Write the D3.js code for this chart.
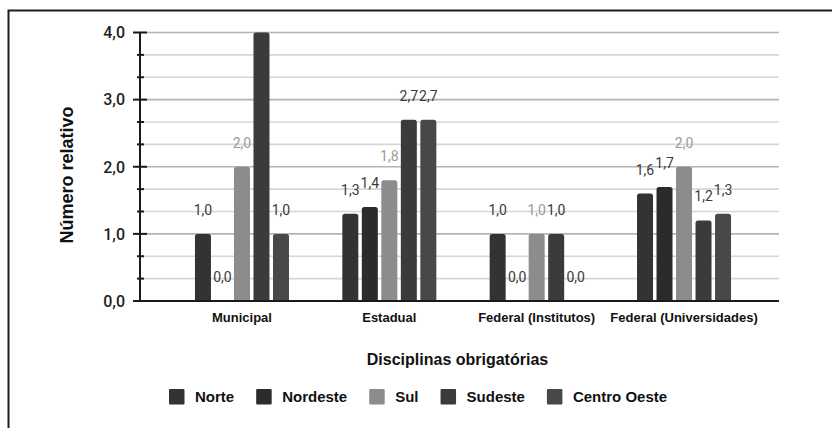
<!DOCTYPE html>
<html>
<head>
<meta charset="utf-8">
<script src="https://cdn.jsdelivr.net/npm/d3@7"></script>
<style>
  html, body { margin: 0; padding: 0; background: #ffffff; }
  svg { display: block; }
</style>
</head>
<body>
<svg id="chart" width="832" height="428"></svg>
<script>
// Categories (x axis groups) and regions (series)
const categories = ["Municipal", "Estadual", "Federal (Institutos)", "Federal (Universidades)"];
const seriesNames = ["Norte", "Nordeste", "Sul", "Sudeste", "Centro Oeste"];

// Relative number per category, one array per region
const norte       = [1.0, 1.3, 1.0, 1.6];
const nordeste    = [0.0, 1.4, 0.0, 1.7];
const sul         = [2.0, 1.8, 1.0, 2.0];
const sudeste     = [4.0, 2.7, 1.0, 1.2];
const centroOeste = [1.0, 2.7, 0.0, 1.3];

const seriesColors = ["#333333", "#2b2b2b", "#8c8c8c", "#3b3b3b", "#484848"];

// Axis ticks
const yTickValues = [0, 1, 2, 3, 4];
const minorPerUnit = 3;

const yTitle = "Número relativo";
const xTitle = "Disciplinas obrigatórias";

const seriesValues = [norte, nordeste, sul, sudeste, centroOeste];

const ptBR = d3.formatLocale({ decimal: ",", thousands: ".", grouping: [3], currency: ["R$", ""] });
const fmt = ptBR.format(".1f");

const svg = d3.select("#chart");

// Plot geometry
const plot = { left: 140, right: 779, top: 32.5, bottom: 301 };

const y = d3.scaleLinear().domain([0, 4]).range([plot.bottom, plot.top]);
const x0 = d3.scaleBand().domain(categories).range([168.3, 757.7]).padding(0);
const x1 = d3.scaleBand().domain(seriesNames).range([0, x0.bandwidth()])
  .paddingInner(0.18).paddingOuter(1.367);

// Outer frame (left and top edges)
svg.append("path")
  .attr("d", "M8.5,428V10.5H832")
  .attr("fill", "none")
  .attr("stroke", "#1e1e1e")
  .attr("stroke-width", 2);

// Gridlines: majors on whole units, minors on thirds
const gridValues = d3.range(0, 4 * minorPerUnit + 1).map(i => i / minorPerUnit);
svg.append("g").selectAll("line")
  .data(gridValues.filter(v => v > 0))
  .join("line")
  .attr("x1", plot.left).attr("x2", plot.right)
  .attr("y1", d => y(d)).attr("y2", d => y(d))
  .attr("stroke", d => Math.abs(d - Math.round(d)) < 1e-6 ? "#b4b4b4" : "#d6d6d6")
  .attr("stroke-width", 1.6);

// Bars with slightly rounded tops
function barPath(bx, by, w, h, r) {
  r = Math.min(r, h / 2, w / 2);
  return `M${bx},${by + h}V${by + r}Q${bx},${by} ${bx + r},${by}H${bx + w - r}Q${bx + w},${by} ${bx + w},${by + r}V${by + h}Z`;
}

const barData = [];
categories.forEach((c, ci) => {
  seriesNames.forEach((s, si) => {
    barData.push({ cat: c, series: s, si, value: seriesValues[si][ci] });
  });
});

svg.append("g").selectAll("path")
  .data(barData.filter(d => d.value > 0))
  .join("path")
  .attr("d", d => {
    const bx = x0(d.cat) + x1(d.series);
    const by = y(d.value);
    return barPath(bx, by, x1.bandwidth(), y(0) - by, 2.5);
  })
  .attr("fill", d => seriesColors[d.si]);

// Value labels above the bars (hidden when they would leave the plot)
svg.append("g").selectAll("text")
  .data(barData.filter(d => y(d.value) - 24 >= plot.top))
  .join("text")
  .attr("x", d => x0(d.cat) + x1(d.series) + x1.bandwidth() / 2)
  .attr("y", d => y(d.value) - 24)
  .attr("dy", "0.36em")
  .attr("text-anchor", "middle")
  .attr("font-family", "Roboto, 'Liberation Sans', sans-serif")
  .attr("font-size", 14)
  .attr("fill", d => d.si === 2 ? "#9a9a9a" : "#3a3a3a")
  .text(d => fmt(d.value));

// Baseline
svg.append("line")
  .attr("x1", 133).attr("x2", plot.right)
  .attr("y1", y(0)).attr("y2", y(0))
  .attr("stroke", "#1a1a1a").attr("stroke-width", 2);

// Y axis line, major and minor ticks
svg.append("line")
  .attr("x1", plot.left).attr("x2", plot.left)
  .attr("y1", y(4)).attr("y2", y(0))
  .attr("stroke", "#1a1a1a").attr("stroke-width", 2);

svg.append("g").selectAll("line")
  .data(gridValues)
  .join("line")
  .attr("x1", d => Math.abs(d - Math.round(d)) < 1e-6 ? 133 : 137)
  .attr("x2", d => Math.abs(d - Math.round(d)) < 1e-6 ? 147 : 144)
  .attr("y1", d => y(d)).attr("y2", d => y(d))
  .attr("stroke", "#1a1a1a").attr("stroke-width", 2);

svg.append("g").selectAll("text")
  .data(yTickValues)
  .join("text")
  .attr("x", 125)
  .attr("y", d => y(d))
  .attr("dy", "0.36em")
  .attr("text-anchor", "end")
  .attr("font-family", "Roboto, 'Liberation Sans', sans-serif")
  .attr("font-size", 16)
  .attr("font-weight", 500)
  .attr("fill", "#1e1e1e")
  .text(d => fmt(d));

// Category labels
svg.append("g").selectAll("text")
  .data(categories)
  .join("text")
  .attr("x", d => x0(d) + x0.bandwidth() / 2)
  .attr("y", 317.5)
  .attr("dy", "0.36em")
  .attr("text-anchor", "middle")
  .attr("font-family", "'Liberation Sans', Arial, sans-serif")
  .attr("font-weight", "bold")
  .attr("font-size", 13)
  .attr("fill", "#111")
  .text(d => d);

// Axis titles
svg.append("text")
  .attr("transform", "translate(66.5,175) rotate(-90)")
  .attr("dy", "0.36em")
  .attr("text-anchor", "middle")
  .attr("font-family", "'Liberation Sans', Arial, sans-serif")
  .attr("font-weight", "bold")
  .attr("font-size", 18)
  .attr("fill", "#111")
  .text(yTitle);

svg.append("text")
  .attr("x", 457.5)
  .attr("y", 359)
  .attr("dy", "0.36em")
  .attr("text-anchor", "middle")
  .attr("font-family", "'Liberation Sans', Arial, sans-serif")
  .attr("font-weight", "bold")
  .attr("font-size", 16)
  .attr("fill", "#111")
  .text(xTitle);

// Legend
const legend = svg.append("g");
let lx = 169;
const ly = 396.5;
seriesNames.forEach((s, i) => {
  legend.append("rect")
    .attr("x", lx).attr("y", ly - 7.5)
    .attr("width", 15.5).attr("height", 15.5)
    .attr("rx", 1)
    .attr("fill", seriesColors[i]);
  const t = legend.append("text")
    .attr("x", lx + 26)
    .attr("y", ly)
    .attr("dy", "0.36em")
    .attr("font-family", "'Liberation Sans', Arial, sans-serif")
    .attr("font-weight", "bold")
    .attr("font-size", 15)
    .attr("fill", "#111")
    .text(s);
  lx = lx + 26 + t.node().getComputedTextLength() + 22;
});
</script>
</body>
</html>
